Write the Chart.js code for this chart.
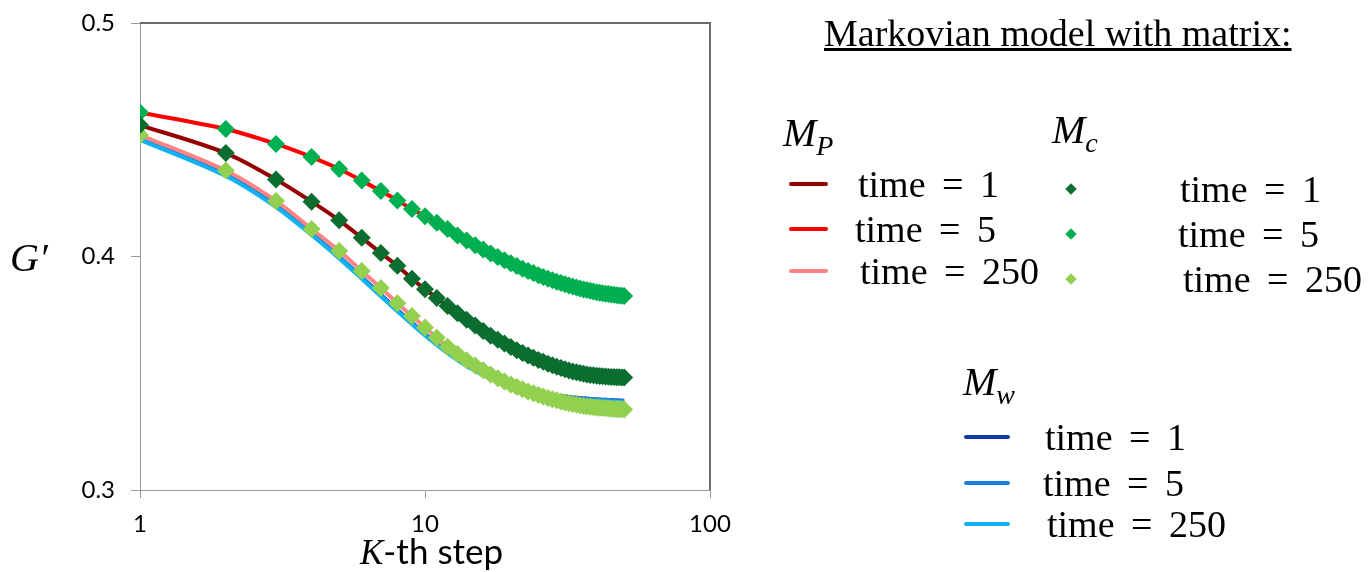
<!DOCTYPE html>
<html>
<head>
<meta charset="utf-8">
<title>Markovian model</title>
<script src="https://cdn.jsdelivr.net/npm/chart.js@4.4.0/dist/chart.umd.min.js"></script>
<style>
    body { margin: 0; background: #fff; }
    #contenedor { position: relative; width: 1370px; height: 572px; overflow: hidden; }
    #grafico { position: absolute; left: 0; top: 0; }
    .txt { position: absolute; white-space: nowrap; color: #000; line-height: 1; }
    .serif { font-family: "Liberation Serif", "Times New Roman", serif; }
    .tiempo { word-spacing: 7px; }
    .mat { font-family: "Liberation Serif", "Times New Roman", serif; font-style: italic; }
    .linea { position: absolute; height: 4px; border-radius: 2px; }
    .rombo { position: absolute; width: 8px; height: 8px; transform: rotate(45deg); }
</style>
</head>
<body>
<div id="contenedor">
    <canvas id="grafico" width="1370" height="572"></canvas>
    <div id="leyenda"></div>
</div>
<script>
// Datos: pasos K (eje x logaritmico) y G' por serie
var steps = [1, 2, 3, 4, 5, 6, 7, 8, 9, 10, 11, 12, 13, 14, 15, 16, 17, 18, 19, 20,
    21, 22, 23, 24, 25, 26, 27, 28, 29, 30, 31, 32, 33, 34, 35, 36, 37, 38, 39, 40,
    41, 42, 43, 44, 45, 46, 47, 48, 49, 50];

var xTicks = [1, 10, 100];
var yTicks = [0.3, 0.4, 0.5];

// time = 1 (M_P linea y M_c marcadores coinciden)
var time1 = [0.4563, 0.4443, 0.4330, 0.4235, 0.4155, 0.4080, 0.4015, 0.3960, 0.3905, 0.3860,
    0.3822, 0.3788, 0.3757, 0.3729, 0.3704, 0.3681, 0.3661, 0.3643, 0.3627, 0.3612,
    0.3599, 0.3587, 0.3576, 0.3566, 0.3557, 0.3549, 0.3541, 0.3534, 0.3528, 0.3522,
    0.3517, 0.3512, 0.3508, 0.3504, 0.3501, 0.3498, 0.3495, 0.3493, 0.3491, 0.3489,
    0.3488, 0.3487, 0.3486, 0.3485, 0.3484, 0.3484, 0.3483, 0.3483, 0.3482, 0.3482];

// time = 5
var time5 = [0.4617, 0.4546, 0.4482, 0.4426, 0.4375, 0.4325, 0.4280, 0.4240, 0.4203, 0.4172,
    0.4145, 0.4118, 0.4090, 0.4068, 0.4048, 0.4030, 0.4013, 0.3998, 0.3984, 0.3971,
    0.3959, 0.3948, 0.3938, 0.3929, 0.3920, 0.3912, 0.3905, 0.3898, 0.3892, 0.3886,
    0.3881, 0.3876, 0.3871, 0.3867, 0.3863, 0.3859, 0.3856, 0.3853, 0.3850, 0.3847,
    0.3845, 0.3843, 0.3841, 0.3839, 0.3837, 0.3836, 0.3834, 0.3833, 0.3832, 0.3831];

// time = 250
var time250 = [0.4520, 0.4368, 0.4238, 0.4118, 0.4024, 0.3938, 0.3865, 0.3800, 0.3745, 0.3696,
    0.3652, 0.3614, 0.3582, 0.3556, 0.3533, 0.3513, 0.3495, 0.3479, 0.3465, 0.3452,
    0.3441, 0.3431, 0.3422, 0.3414, 0.3407, 0.3400, 0.3394, 0.3389, 0.3384, 0.3379,
    0.3375, 0.3371, 0.3368, 0.3365, 0.3362, 0.3360, 0.3358, 0.3356, 0.3354, 0.3353,
    0.3352, 0.3351, 0.3350, 0.3349, 0.3348, 0.3347, 0.3347, 0.3346, 0.3346, 0.3345];

// M_w, time = 1 y time = 5 (casi iguales)
var mwTime5 = [0.4503, 0.4350, 0.4218, 0.4098, 0.3998, 0.3911, 0.3836, 0.3771, 0.3716, 0.3668,
    0.3627, 0.3592, 0.3562, 0.3537, 0.3516, 0.3498, 0.3483, 0.3470, 0.3459, 0.3449,
    0.3441, 0.3434, 0.3428, 0.3423, 0.3418, 0.3414, 0.3410, 0.3407, 0.3404, 0.3402,
    0.3400, 0.3398, 0.3396, 0.3395, 0.3393, 0.3392, 0.3391, 0.3390, 0.3389, 0.3388,
    0.3387, 0.3386, 0.3386, 0.3385, 0.3384, 0.3384, 0.3383, 0.3383, 0.3382, 0.3382];

// M_w, time = 250
var mwTime250 = [0.4500, 0.4345, 0.4212, 0.4092, 0.3992, 0.3905, 0.3830, 0.3765, 0.3710, 0.3662,
    0.3621, 0.3586, 0.3556, 0.3531, 0.3510, 0.3492, 0.3477, 0.3464, 0.3453, 0.3443,
    0.3435, 0.3428, 0.3422, 0.3417, 0.3412, 0.3408, 0.3404, 0.3401, 0.3398, 0.3396,
    0.3394, 0.3392, 0.3390, 0.3389, 0.3387, 0.3386, 0.3385, 0.3384, 0.3383, 0.3382,
    0.3381, 0.3380, 0.3380, 0.3379, 0.3378, 0.3378, 0.3377, 0.3377, 0.3376, 0.3376];

var mcColors = ["#0B6E30", "#00B050", "#92D050"];
var mpColors = ["#960000", "#FF0000", "#FF8585"];
var mwColors = ["#0E3AA8", "#1A7FDC", "#12B2F0"];
var timeLabels = ["time = 1", "time = 5", "time = 250"];

function puntos(valores) {
    return steps.map(function (k, i) {
        return { x: k, y: valores[i] };
    });
}

// El primer dataset se dibuja encima
var datasets = [];
[time1, time5, time250].forEach(function (serie, i) {
    datasets.push({
        label: "Mc " + timeLabels[i],
        data: puntos(serie),
        showLine: false,
        pointStyle: "rectRot",
        pointRadius: 9,
        pointBorderWidth: 0,
        pointBackgroundColor: mcColors[i],
        pointBorderColor: mcColors[i],
    });
});
[time250, time5, time1].forEach(function (serie, i) {
    datasets.push({
        label: "Mp " + timeLabels[2 - i],
        data: puntos(serie),
        borderColor: mpColors[2 - i],
        borderWidth: 4,
        pointRadius: 0,
        tension: 0.3,
    });
});
[mwTime250, mwTime5, mwTime5].forEach(function (serie, i) {
    datasets.push({
        label: "Mw " + timeLabels[2 - i],
        data: puntos(serie),
        borderColor: mwColors[2 - i],
        borderWidth: 4,
        pointRadius: 0,
        tension: 0.3,
    });
});

// Marco del area del grafico (arriba y derecha)
var marco = {
    id: "marco",
    beforeDatasetsDraw: function (chart) {
        var a = chart.chartArea;
        var c = chart.ctx;
        c.save();
        c.strokeStyle = "#6a6a6a";
        c.lineWidth = 2;
        c.beginPath();
        c.moveTo(a.left, a.top);
        c.lineTo(a.right, a.top);
        c.lineTo(a.right, a.bottom);
        c.stroke();
        c.restore();
    },
};

var fuenteEje = { family: "Lato, 'Open Sans', sans-serif", size: 24 };

var ctx = document.getElementById("grafico").getContext("2d");
var myChart = new Chart(ctx, {
    type: "line",
    data: { datasets: datasets },
    options: {
        responsive: false,
        animation: false,
        devicePixelRatio: 1,
        layout: { padding: { left: 0, right: 660, top: 23, bottom: 0 } },
        plugins: { legend: { display: false }, tooltip: { enabled: false } },
        scales: {
            x: {
                type: "logarithmic",
                min: 1,
                max: 100,
                afterBuildTicks: function (axis) {
                    axis.ticks = xTicks.map(function (v) { return { value: v }; });
                },
                afterFit: function (axis) {
                    axis.height = 82;
                    axis.paddingLeft = 0;
                    axis.paddingRight = 0;
                },
                ticks: {
                    font: fuenteEje,
                    color: "#000",
                    padding: 12,
                    maxRotation: 0,
                    autoSkip: false,
                    callback: function (value) { return String(value); },
                },
                grid: { drawOnChartArea: false, drawTicks: true, tickLength: 8, color: "#999" },
                border: { color: "#999", width: 1 },
            },
            y: {
                min: 0.3,
                max: 0.5,
                afterBuildTicks: function (axis) {
                    axis.ticks = yTicks.map(function (v) { return { value: v }; });
                },
                afterFit: function (axis) {
                    axis.width = 140;
                    axis.paddingTop = 0;
                    axis.paddingBottom = 0;
                },
                ticks: {
                    font: fuenteEje,
                    color: "#000",
                    padding: 16,
                    callback: function (value) { return value.toFixed(1); },
                },
                grid: { drawOnChartArea: false, drawTicks: true, tickLength: 9, color: "#999" },
                border: { color: "#999", width: 1 },
            },
        },
    },
    plugins: [marco],
});

// Textos y leyenda como HTML
var leyenda = document.getElementById("leyenda");

function texto(html, x, y, clase, size) {
    var d = document.createElement("div");
    d.className = "txt " + clase;
    d.style.left = x + "px";
    d.style.top = y + "px";
    d.style.fontSize = size + "px";
    d.innerHTML = html;
    leyenda.appendChild(d);
    return d;
}

texto("<i style=\"font-family:'Liberation Serif',serif\">K</i>-th step", 360, 533, "", 35).style.fontFamily = "Lato, sans-serif";
texto("G&prime;", 10, 238, "mat", 40);
texto("<u>Markovian model with matrix:</u>", 824, 14, "serif", 38);

var grupos = [
    { nombre: "M<sub style='font-size:28px'>P</sub>", x: 783, y: 113, tipo: "linea", colores: mpColors,
      marcaX: 789, ancho: 39, textoX: [858, 855, 860], filas: [184, 229, 271] },
    { nombre: "M<sub style='font-size:28px'>c</sub>", x: 1052, y: 110, tipo: "rombo", colores: mcColors,
      marcaX: 1071, textoX: [1180, 1178, 1183], filas: [189, 234, 279] },
    { nombre: "M<sub style='font-size:28px'>w</sub>", x: 963, y: 362, tipo: "linea", colores: mwColors,
      marcaX: 964, ancho: 46, textoX: [1045, 1043, 1047], filas: [437, 483, 524] },
];

grupos.forEach(function (g) {
    texto(g.nombre, g.x, g.y, "mat", 40);
    g.filas.forEach(function (fy, i) {
        var m = document.createElement("div");
        m.className = g.tipo;
        m.style.background = g.colores[i];
        if (g.tipo == "linea") {
            m.style.left = g.marcaX + "px";
            m.style.top = (fy - 2) + "px";
            m.style.width = g.ancho + "px";
        } else {
            m.style.left = (g.marcaX - 4) + "px";
            m.style.top = (fy - 4) + "px";
        }
        leyenda.appendChild(m);
        texto(timeLabels[i], g.textoX[i], fy - 19, "serif tiempo", 38);
    });
});
</script>
</body>
</html>
